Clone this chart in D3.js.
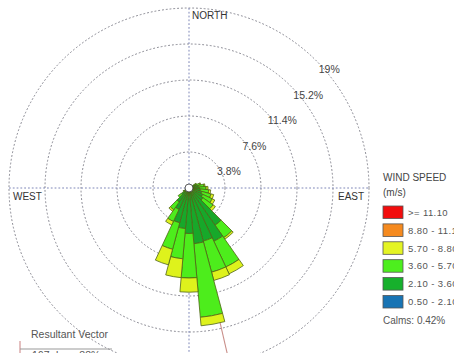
<!DOCTYPE html>
<html>
<head>
<meta charset="utf-8">
<script src="https://cdn.jsdelivr.net/npm/d3@7"></script>
<style>
  html, body { margin: 0; padding: 0; background: #fff; }
  svg { display: block; font-family: "Liberation Sans", Arial, sans-serif; }
</style>
</head>
<body>
<svg id="chart" width="454" height="353"></svg>
<script>
// Wind direction bearings (degrees from north), 10-degree sectors
const directions = [60, 70, 80, 90, 100, 110, 120, 130, 140, 150, 160, 170, 180, 190, 200, 210, 220, 230, 240];

// Frequency (%) per speed class for each direction
const speed0_5to2_1  = [0.2, 0.2, 0.2, 0.2, 0.2, 0.2, 0.2, 0.2, 0.3, 0.3, 0.3, 0.3, 0.3, 0.3, 0.3, 0.3, 0.2, 0.2, 0.2];
const speed2_1to3_6  = [0.5, 0.6, 0.8, 0.9, 1.0, 1.2, 1.4, 1.6, 4.5, 5.9, 5.5, 5.6, 4.5, 4.0, 3.5, 2.2, 1.6, 0.8, 0.4];
const speed3_6to5_7  = [0.2, 0.4, 0.6, 0.7, 0.9, 1.0, 1.1, 1.3, 1.6, 3.0, 3.4, 7.8, 4.7, 3.2, 2.9, 1.4, 1.0, 0.4, 0.1];
const speed5_7to8_8  = [0.0, 0.1, 0.1, 0.2, 0.2, 0.3, 0.3, 0.3, 0.2, 0.8, 0.9, 0.9, 1.5, 2.0, 1.7, 0.4, 0.2, 0.0, 0.0];
const speed8_8to11_1 = [0, 0, 0, 0, 0, 0, 0, 0, 0, 0, 0, 0, 0, 0, 0, 0, 0, 0, 0];
const speedGe11_1    = [0, 0, 0, 0, 0, 0, 0, 0, 0, 0, 0, 0, 0, 0, 0, 0, 0, 0, 0];

const speedLabels = [">= 11.10", "8.80 - 11.10", "5.70 - 8.80", "3.60 - 5.70", "2.10 - 3.60", "0.50 - 2.10"];
const speedColors = ["#f20d0d", "#f58a1f", "#e4f424", "#4def1e", "#17b02c", "#1874b4"];

const ringTicks = [3.8, 7.6, 11.4, 15.2, 19];
const ringLabels = ["3.8%", "7.6%", "11.4%", "15.2%", "19%"];
const calmsPct = 0.42;
const resultantDir = 167;
const resultantText = "167 deg - 88%";

const svg = d3.select("#chart");
const cx = 189, cy = 188;
const r = d3.scaleLinear().domain([0, 19]).range([0, 180]);
const deg = Math.PI / 180;

const g = svg.append("g").attr("transform", `translate(${cx},${cy})`);

// Rings
g.selectAll("circle.ring").data(ringTicks).join("circle")
  .attr("class", "ring")
  .attr("r", d => r(d))
  .attr("fill", "none")
  .attr("stroke", "#85858f")
  .attr("stroke-width", 1)
  .attr("stroke-dasharray", "1.8,2");

// Crosshair
const outer = r(19);
g.append("line").attr("x1", -outer).attr("x2", outer).attr("y1", 0).attr("y2", 0)
  .attr("stroke", "#7f87b8").attr("stroke-width", 1).attr("stroke-dasharray", "1.8,2");
g.append("line").attr("x1", 0).attr("x2", 0).attr("y1", -outer).attr("y2", outer)
  .attr("stroke", "#7f87b8").attr("stroke-width", 1).attr("stroke-dasharray", "1.8,2");

// Ring labels along the north-east diagonal
g.selectAll("text.ringlab").data(ringTicks).join("text")
  .attr("class", "ringlab")
  .attr("x", d => r(d) * Math.SQRT1_2 + 2.5)
  .attr("y", d => -r(d) * Math.SQRT1_2 + 12.5)
  .attr("font-size", 10.5)
  .attr("fill", "#444")
  .text((d, i) => ringLabels[i]);

// Compass labels
g.append("text").attr("x", 3).attr("y", -outer + 11).attr("font-size", 10).attr("fill", "#333").text("NORTH");
g.append("text").attr("x", -outer + 4).attr("y", 12).attr("font-size", 10).attr("fill", "#333").text("WEST");
g.append("text").attr("x", outer - 31).attr("y", 12).attr("font-size", 10).attr("fill", "#333").text("EAST");

// Resultant vector line
g.append("line")
  .attr("x1", 0).attr("y1", 0)
  .attr("x2", r(20) * Math.sin(resultantDir * deg))
  .attr("y2", -r(20) * Math.cos(resultantDir * deg))
  .attr("stroke", "#c98f8a").attr("stroke-width", 1.1);

// Petals: stacked speed classes, innermost first
const classes = [speed0_5to2_1, speed2_1to3_6, speed3_6to5_7, speed5_7to8_8, speed8_8to11_1, speedGe11_1];
const classColors = ["#1874b4", "#17a82a", "#4ded1c", "#def21c", "#f58a1f", "#f20d0d"];
const segments = [];
directions.forEach((dir, i) => {
  let acc = 0;
  classes.forEach((cls, k) => {
    const v = cls[i];
    if (v > 0) segments.push({ dir, inner: acc, outer: acc + v, k });
    acc += v;
  });
});
const halfW = 5;
const arc = d3.arc()
  .innerRadius(d => r(d.inner))
  .outerRadius(d => r(d.outer))
  .startAngle(d => (d.dir - halfW) * deg)
  .endAngle(d => (d.dir + halfW) * deg);

g.selectAll("path.petal").data(segments).join("path")
  .attr("class", "petal")
  .attr("d", arc)
  .attr("fill", d => classColors[d.k])
  .attr("stroke", "#4f6514")
  .attr("stroke-width", 0.8)
  .attr("stroke-linejoin", "round");

// Calms circle
g.append("circle").attr("r", r(calmsPct)).attr("fill", "#fff").attr("stroke", "#333").attr("stroke-width", 0.8);

// Legend
const lg = svg.append("g").attr("transform", "translate(383,0)");
lg.append("text").attr("x", 0).attr("y", 181).attr("font-size", 10).attr("fill", "#444").text("WIND SPEED");
lg.append("text").attr("x", 0).attr("y", 196).attr("font-size", 10).attr("fill", "#444").text("(m/s)");
const rowY = d3.scaleBand().domain(d3.range(speedLabels.length)).range([206, 308]).paddingInner(0.3);
lg.selectAll("rect.sw").data(speedLabels).join("rect")
  .attr("class", "sw")
  .attr("x", 0).attr("y", (d, i) => rowY(i))
  .attr("width", 20).attr("height", rowY.bandwidth())
  .attr("fill", (d, i) => speedColors[i])
  .attr("stroke", "#555").attr("stroke-width", 0.8);
lg.selectAll("text.sl").data(speedLabels).join("text")
  .attr("class", "sl")
  .attr("x", 25).attr("y", (d, i) => rowY(i) + rowY.bandwidth() / 2 + 3.5)
  .attr("font-size", 9.5).attr("letter-spacing", 0.4).attr("fill", "#555")
  .text(d => d);
lg.append("text").attr("x", 0).attr("y", 324).attr("font-size", 10).attr("fill", "#555").text(`Calms: ${calmsPct}%`);

// Resultant vector box
const rv = svg.append("g");
rv.append("text").attr("x", 31).attr("y", 338).attr("font-size", 10.5).attr("fill", "#555").text("Resultant Vector");
rv.append("line").attr("x1", 20).attr("x2", 20).attr("y1", 341).attr("y2", 353).attr("stroke", "#c98080");
rv.append("line").attr("x1", 20).attr("x2", 112).attr("y1", 349).attr("y2", 349).attr("stroke", "#999");
rv.append("text").attr("x", 32).attr("y", 359).attr("font-size", 10.5).attr("fill", "#555").text(resultantText);
</script>
</body>
</html>
